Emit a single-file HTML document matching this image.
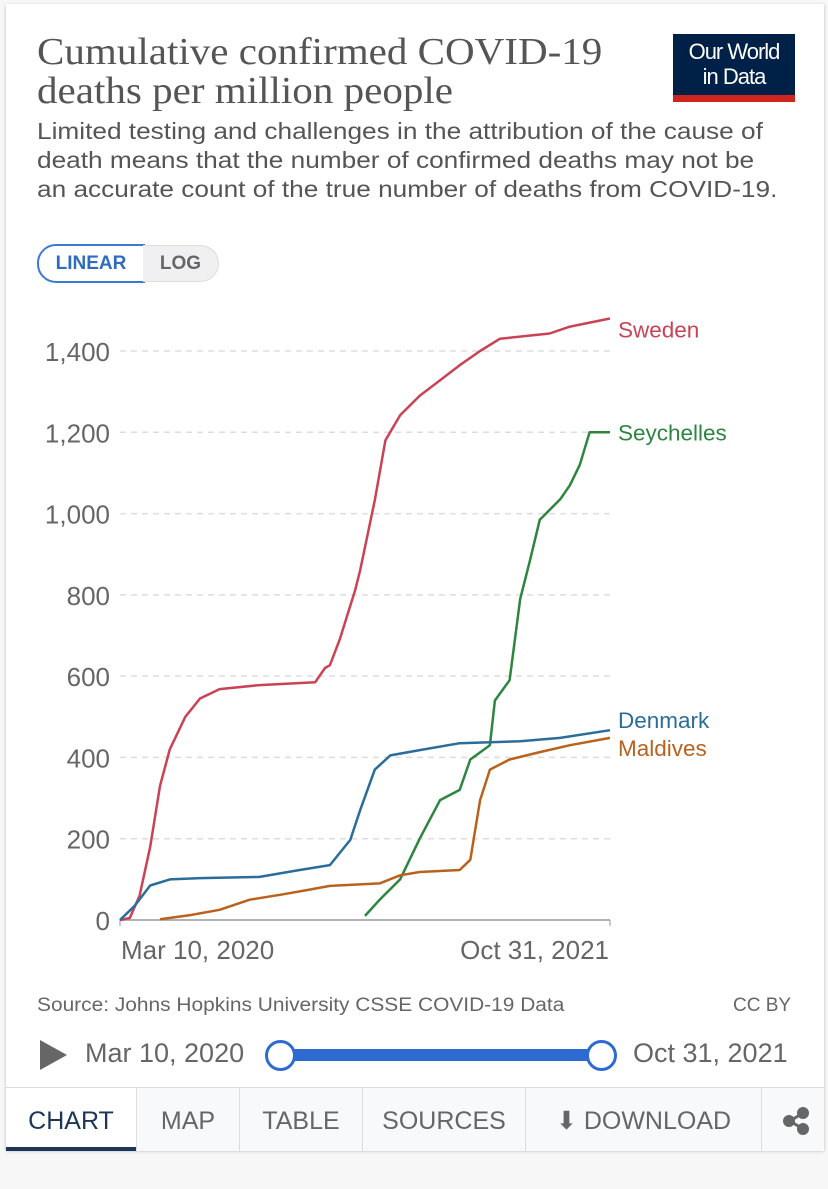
<!DOCTYPE html>
<html><head><meta charset="utf-8"><style>
body{margin:0;background:#f7f7f7;font-family:"Liberation Sans",sans-serif;}
#card{position:absolute;left:6px;top:4px;width:818px;height:1146px;background:#fff;box-shadow:0 1px 3px rgba(0,0,0,.25);}
.t{position:absolute;white-space:nowrap;transform-origin:0 0;}
</style></head><body>
<div id="card"></div>
<div class="t" style="left:37px;top:33px;font-family:'Liberation Serif',serif;font-size:38px;line-height:39px;color:#555;transform:scaleX(1.08);">Cumulative confirmed COVID-19<br>deaths per million people</div>
<div style="position:absolute;left:673px;top:34px;width:122px;height:68px;background:#002147;">
<div style="color:#fff;font-size:22px;line-height:25px;text-align:center;margin-top:5px;letter-spacing:-1px;">Our World<br>in Data</div>
<div style="position:absolute;bottom:0;left:0;right:0;height:7px;background:#ce261e;"></div></div>
<div class="t" style="left:37px;top:117px;font-size:23px;line-height:29px;color:#555;transform:scaleX(1.14);">Limited testing and challenges in the attribution of the cause of<br>death means that the number of confirmed deaths may not be<br>an accurate count of the true number of deaths from COVID-19.</div>
<div style="position:absolute;left:37px;top:244px;width:104px;height:35px;border:2px solid #3c7ad1;border-radius:19px 0 0 19px;color:#2e6bc1;font-size:19px;font-weight:bold;line-height:35px;text-align:center;">LINEAR</div>
<div style="position:absolute;left:143px;top:245px;width:75px;height:35px;border:1px solid #ddd;border-left:none;border-radius:0 19px 19px 0;background:#f0f0f3;color:#666;font-size:19px;font-weight:bold;line-height:35px;text-align:center;">LOG</div>
<svg id="chart" width="828" height="1189" style="position:absolute;left:0;top:0;"></svg>
<div class="t" style="left:37px;top:995px;font-size:19px;color:#666;transform:scaleX(1.1);">Source: Johns Hopkins University CSSE COVID-19 Data</div>
<div class="t" style="left:733px;top:995px;font-size:19px;color:#666;">CC BY</div>
<div style="position:absolute;left:40px;top:1040px;width:0;height:0;border-top:15px solid transparent;border-bottom:15px solid transparent;border-left:27px solid #666;"></div>
<div class="t" style="left:85px;top:1038px;font-size:27px;color:#666;">Mar 10, 2020</div>
<div class="t" style="left:633px;top:1038px;font-size:27px;color:#666;">Oct 31, 2021</div>
<div style="position:absolute;left:280px;top:1049px;width:320px;height:12px;background:#2e6bd1;"></div>
<div style="position:absolute;left:265px;top:1040px;width:25px;height:25px;border:3px solid #2e6bd1;border-radius:50%;background:#fff;"></div>
<div style="position:absolute;left:586px;top:1040px;width:25px;height:25px;border:3px solid #2e6bd1;border-radius:50%;background:#fff;"></div>
<div style="position:absolute;left:6px;top:1087px;width:818px;height:63px;display:flex;font-size:25px;color:#666;background:#f8f9fb;border-top:1px solid #ddd;">
<div style="width:130px;text-align:center;line-height:66px;background:#fff;color:#1d3557;border-bottom:4px solid #1d3557;box-sizing:border-box;">CHART</div>
<div style="width:102px;text-align:center;line-height:66px;border-left:1px solid #ddd;">MAP</div>
<div style="width:122px;text-align:center;line-height:66px;border-left:1px solid #ddd;">TABLE</div>
<div style="width:162px;text-align:center;line-height:66px;border-left:1px solid #ddd;">SOURCES</div>
<div style="width:235px;text-align:center;line-height:66px;border-left:1px solid #ddd;">⬇ DOWNLOAD</div>
<div style="flex:1;border-left:1px solid #ddd;position:relative;">
<svg width="30" height="30" style="position:absolute;left:20px;top:18px;"><g fill="#666" stroke="#666" stroke-width="3"><line x1="8" y1="15" x2="21" y2="7"/><line x1="8" y1="15" x2="21" y2="23"/><circle cx="7" cy="15" r="4.5"/><circle cx="21" cy="7" r="4.5"/><circle cx="21" cy="23" r="4.5"/></g></svg></div>
</div>
<script>
const yTicks=[0,200,400,600,800,1000,1200,1400];
const xTickLabels=["Mar 10, 2020","Oct 31, 2021"];
const swedenDays=[0,12,24,37,49,61,80,98,122,171,239,251,257,269,288,294,312,325,343,367,392,416,441,465,526,551,600];
const swedenVals=[0,5,60,180,330,420,500,545,568,578,585,620,627,690,812,860,1033,1180,1242,1290,1328,1365,1400,1430,1443,1460,1480];
const seyDays=[300,318,343,367,392,416,429,453,459,477,490,502,514,539,551,563,575,600];
const seyVals=[10,50,100,200,295,320,395,430,540,590,790,885,985,1035,1070,1120,1200,1200];
const denDays=[0,18,37,61,98,171,220,257,282,294,312,331,367,416,490,539,600];
const denVals=[0,35,85,100,103,106,123,135,197,270,370,405,418,435,440,448,467];
const malDays=[49,86,122,159,196,233,257,318,343,367,416,429,441,453,477,514,551,600];
const malVals=[2,12,25,50,62,75,84,90,110,118,123,148,295,370,395,413,430,448];
const x0=120,x1=610,y0=920,yTop=351;
const X=d=>x0+d/600*(x1-x0);
const Y=v=>y0-v/1400*(y0-yTop);
const svg=document.getElementById('chart');
const NS='http://www.w3.org/2000/svg';
function mk(tag,attrs){const e=document.createElementNS(NS,tag);for(const k in attrs)e.setAttribute(k,attrs[k]);svg.appendChild(e);return e;}
yTicks.forEach(v=>{
  if(v>0){const g=mk('line',{x1:x0,x2:x1,y1:Y(v),y2:Y(v),stroke:'#ddd','stroke-dasharray':'6,5','stroke-width':1.5});
  
  }
  const t=mk('text',{x:110,y:Y(v)+10,'text-anchor':'end','font-size':26,fill:'#666','font-family':'Liberation Sans, sans-serif'});
  t.textContent=v.toLocaleString('en-US');
  
  
});
const ax=mk('line',{x1:x0,x2:x1,y1:y0,y2:y0,stroke:'#999','stroke-width':1.5});


[[x0,'start'],[x1,'end']].forEach((p,i)=>{
  const tk=mk('line',{x1:p[0],x2:p[0],y1:y0,y2:y0+6,stroke:'#999'});
  
  
  const t=mk('text',{x:p[0]+(i?-1:1),y:959,'text-anchor':p[1],'font-size':26,fill:'#666','font-family':'Liberation Sans, sans-serif'});
  t.textContent=xTickLabels[i];
  
  
});
const series=[
 ['Sweden',swedenDays,swedenVals,'#c94355',Y(1480)+19,'sweden'],
 ['Seychelles',seyDays,seyVals,'#2e8540',Y(1200)+8,'seychelles'],
 ['Denmark',denDays,denVals,'#2a6d9a',728,'denmark'],
 ['Maldives',malDays,malVals,'#b8621e',756,'maldives']];
series.forEach(s=>{
  const pts=s[1].map((d,i)=>X(d).toFixed(1)+','+Y(s[2][i]).toFixed(1)).join(' ');
  const l=mk('polyline',{points:pts,fill:'none',stroke:s[3],'stroke-width':2.5,'stroke-linejoin':'round'});
  
  
  const t=mk('text',{x:618,y:s[4],'font-size':22.5,fill:s[3],'font-family':'Liberation Sans, sans-serif'});
  t.textContent=s[0];
  
  
});
</script>
</body></html>
